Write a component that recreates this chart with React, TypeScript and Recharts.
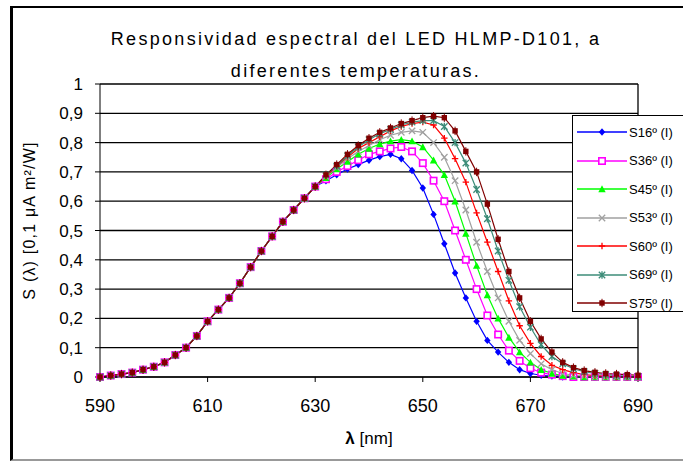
import React from 'react';
import { LineChart, Line, XAxis, YAxis, CartesianGrid, Legend, ReferenceLine } from 'recharts';

// wavelength grid, nm (2 nm steps)
const wavelengths = [
  590, 592, 594, 596, 598, 600, 602, 604, 606, 608, 610, 612, 614, 616, 618, 620, 622, 624, 626, 628, 630,
  632, 634, 636, 638, 640, 642, 644, 646, 648, 650, 652, 654, 656, 658, 660, 662, 664, 666, 668, 670,
  672, 674, 676, 678, 680, 682, 684, 686, 688, 690,
];

// rising edge, common to every temperature (590..630)
const rise = [0, 0.005, 0.01, 0.015, 0.025, 0.035, 0.05, 0.075, 0.1, 0.14, 0.19, 0.23, 0.27, 0.32, 0.375, 0.43, 0.48, 0.53, 0.57, 0.61, 0.65];

// 632..690 per series
const s16 = [0.67, 0.69, 0.71, 0.725, 0.74, 0.752, 0.76, 0.745, 0.705, 0.645, 0.555, 0.455, 0.355, 0.27, 0.19, 0.125, 0.085, 0.05, 0.025, 0.012, 0.006, 0.003, 0, 0, 0, 0, 0, 0, 0, 0];
const s36 = [0.675, 0.7, 0.72, 0.74, 0.76, 0.77, 0.78, 0.785, 0.77, 0.73, 0.67, 0.6, 0.5, 0.4, 0.3, 0.21, 0.145, 0.09, 0.055, 0.03, 0.015, 0.008, 0.003, 0, 0, 0, 0, 0, 0, 0];
const s45 = [0.68, 0.71, 0.735, 0.76, 0.78, 0.795, 0.805, 0.81, 0.805, 0.785, 0.74, 0.69, 0.6, 0.49, 0.38, 0.28, 0.2, 0.135, 0.085, 0.05, 0.025, 0.012, 0.005, 0.002, 0, 0, 0, 0, 0, 0];
const s53 = [0.685, 0.715, 0.745, 0.77, 0.79, 0.81, 0.825, 0.835, 0.84, 0.835, 0.8, 0.75, 0.67, 0.57, 0.46, 0.36, 0.27, 0.19, 0.125, 0.08, 0.045, 0.025, 0.012, 0.006, 0.003, 0, 0, 0, 0, 0];
const s60 = [0.685, 0.72, 0.75, 0.78, 0.8, 0.82, 0.84, 0.855, 0.865, 0.87, 0.86, 0.815, 0.745, 0.665, 0.56, 0.46, 0.36, 0.26, 0.175, 0.115, 0.07, 0.04, 0.025, 0.015, 0.008, 0.005, 0.003, 0, 0, 0];
const s69 = [0.69, 0.72, 0.755, 0.785, 0.81, 0.83, 0.845, 0.86, 0.87, 0.875, 0.875, 0.855, 0.8, 0.73, 0.64, 0.54, 0.43, 0.33, 0.24, 0.17, 0.11, 0.07, 0.045, 0.028, 0.018, 0.012, 0.008, 0.005, 0.003, 0.002];
const s75 = [0.69, 0.725, 0.76, 0.79, 0.815, 0.835, 0.85, 0.865, 0.875, 0.885, 0.89, 0.885, 0.84, 0.77, 0.7, 0.59, 0.47, 0.36, 0.27, 0.19, 0.13, 0.085, 0.05, 0.032, 0.022, 0.016, 0.012, 0.01, 0.008, 0.006];

const seriesNames = ['S16º (I)', 'S36º (I)', 'S45º (I)', 'S53º (I)', 'S60º (I)', 'S69º (I)', 'S75º (I)'];
const seriesColors = ['#0000ff', '#ff00ff', '#00ff00', '#a0a0a0', '#ff0000', '#3c8c78', '#800000'];
const seriesMarkers = ['diamond', 'square', 'triangle', 'cross', 'plus', 'star', 'block'];
const tails = [s16, s36, s45, s53, s60, s69, s75];

const xTicks = [590, 610, 630, 650, 670, 690];
const yTicks = [0, 0.1, 0.2, 0.3, 0.4, 0.5, 0.6, 0.7, 0.8, 0.9, 1];

const data = wavelengths.map((w, i) => {
  const row: Record<string, number> = { w };
  tails.forEach((t, k) => {
    row['k' + k] = i < rise.length ? rise[i] : t[i - rise.length];
  });
  return row;
});

const FONT = '"Liberation Sans", Arial, sans-serif';

function Marker({ kind, cx, cy, color }: { kind: string; cx: number; cy: number; color: string }) {
  const r = 3.2;
  switch (kind) {
    case 'diamond':
      return <polygon points={`${cx},${cy - r - 0.5} ${cx + r},${cy} ${cx},${cy + r + 0.5} ${cx - r},${cy}`} fill={color} />;
    case 'square':
      return <rect x={cx - r} y={cy - r} width={2 * r} height={2 * r} fill="#fff" stroke={color} strokeWidth={1.6} />;
    case 'triangle':
      return <polygon points={`${cx},${cy - r - 0.5} ${cx + r + 0.5},${cy + r} ${cx - r - 0.5},${cy + r}`} fill={color} />;
    case 'cross':
      return <path d={`M${cx - r},${cy - r}L${cx + r},${cy + r}M${cx - r},${cy + r}L${cx + r},${cy - r}`} stroke={color} strokeWidth={1.3} />;
    case 'plus':
      return <path d={`M${cx - r},${cy}L${cx + r},${cy}M${cx},${cy - r}L${cx},${cy + r}`} stroke={color} strokeWidth={1.3} />;
    case 'star':
      return (
        <path
          d={`M${cx - r},${cy - r}L${cx + r},${cy + r}M${cx - r},${cy + r}L${cx + r},${cy - r}M${cx},${cy - r - 0.5}L${cx},${cy + r + 0.5}`}
          stroke={color}
          strokeWidth={1.3}
        />
      );
    default:
      return (
        <g>
          <rect x={cx - 2.7} y={cy - 2.7} width={5.4} height={5.4} fill={color} />
          <path d={`M${cx},${cy - r - 1}L${cx},${cy + r + 1}`} stroke={color} strokeWidth={1} />
        </g>
      );
  }
}

const LegendBox = ({ payload }: any) => (
  <div style={{ fontFamily: FONT, fontSize: 13, color: '#000', paddingTop: 2 }}>
    {(payload || []).map((p: any, i: number) => (
      <div key={i} style={{ height: 28.5, display: 'flex', alignItems: 'center', whiteSpace: 'nowrap' }}>
        <svg width={54} height={12} style={{ marginLeft: 2 }}>
          <line x1={2} y1={6} x2={52} y2={6} stroke={p.color} strokeWidth={1.5} />
          <Marker kind={seriesMarkers[i]} cx={27} cy={6} color={p.color} />
        </svg>
        <span style={{ marginLeft: 0 }}>{p.value}</span>
      </div>
    ))}
  </div>
);

const XTitle = ({ viewBox }: any) => {
  const cx = viewBox.x + viewBox.width / 2;
  return (
    <text x={cx} y={444} textAnchor="middle" fontFamily={FONT} fontSize={17} fill="#000">
      <tspan fontWeight="bold">λ</tspan>
      <tspan> [nm]</tspan>
    </text>
  );
};

export default function App() {
  return (
    <div style={{ position: 'absolute', left: 0, top: 0, width: 683, height: 461, overflow: 'hidden', background: '#fff' }}>
      <LineChart width={683} height={461} data={data} margin={{ top: 84, right: 45, bottom: 0, left: 0 }}>
        <CartesianGrid vertical={false} stroke="#000" strokeWidth={1.3} />
        <XAxis
          type="number"
          dataKey="w"
          domain={[590, 690]}
          ticks={xTicks}
          height={84}
          stroke="#000"
          tickSize={5}
          tickMargin={17}
          tick={{ fill: '#000', fontFamily: FONT, fontSize: 18 }}
          label={<XTitle />}
        />
        <YAxis
          type="number"
          domain={[0, 1]}
          ticks={yTicks}
          width={100}
          stroke="#000"
          tickSize={5}
          tickMargin={12}
          tick={{ fill: '#000', fontFamily: FONT, fontSize: 17 }}
          tickFormatter={(v: number) => String(v).replace('.', ',')}
          label={{
            value: 'S (λ) [0,1 μA m²/W]',
            angle: -90,
            position: 'center',
            dx: -21,
            dy: -10,
            style: { fontFamily: FONT, fontSize: 16, letterSpacing: 1.2, fill: '#000' },
          }}
        />
        <ReferenceLine x={690} stroke="#000" strokeWidth={1.3} />
        {tails.map((_, k) => (
          <Line
            key={k}
            type="linear"
            dataKey={'k' + k}
            name={seriesNames[k]}
            stroke={seriesColors[k]}
            strokeWidth={1.2}
            isAnimationActive={false}
            dot={(p: any) => <Marker key={`${k}-${p.index}`} kind={seriesMarkers[k]} cx={p.cx} cy={p.cy} color={seriesColors[k]} />}
            activeDot={false}
          />
        ))}
        <Legend
          layout="vertical"
          align="center"
          verticalAlign="middle"
          content={<LegendBox />}
          wrapperStyle={{ left: 572, top: 115, width: 140, height: 197, border: '1.5px solid #000', background: '#fff', boxSizing: 'border-box' }}
        />
      </LineChart>
      <div
        style={{ position: 'absolute', left: 10, top: 6, width: 720, height: 451, borderLeft: '3px solid #000', borderTop: '2px solid #000', borderBottom: '2px solid #999', pointerEvents: 'none' }}
      />
      <div style={{ position: 'absolute', left: 0, top: 23, width: 712, textAlign: 'center', fontFamily: FONT, fontSize: 18, lineHeight: '32px', letterSpacing: 2.3, color: '#000' }}>
        Responsividad espectral del LED HLMP-D101, a
        <br />
        diferentes temperaturas.
      </div>
    </div>
  );
}
